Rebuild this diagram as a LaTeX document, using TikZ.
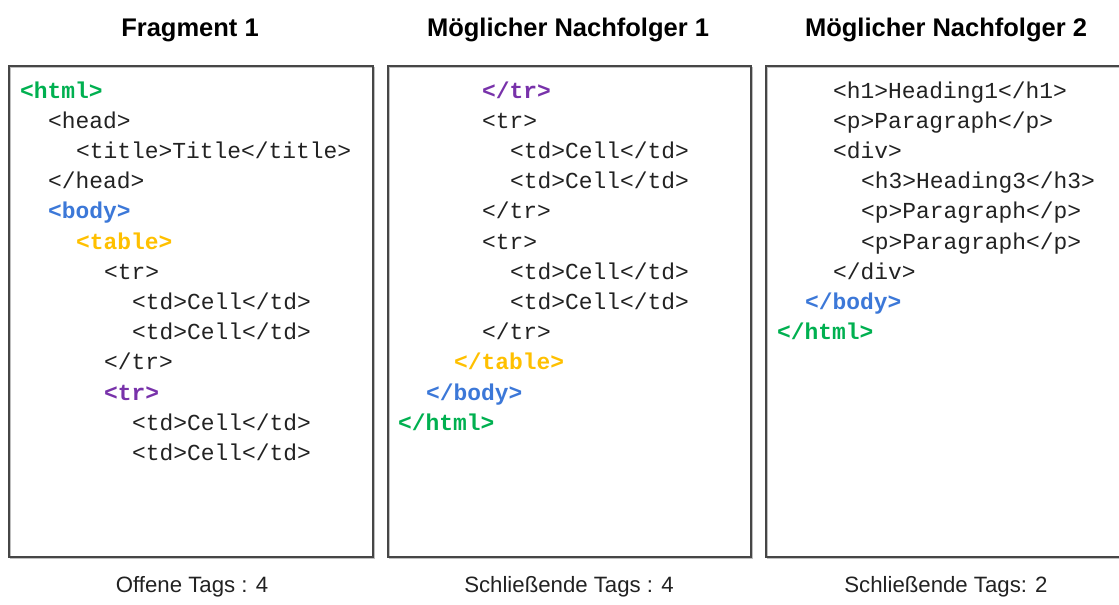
\documentclass[tikz,border=0pt]{standalone}
\usepackage{fontspec}
\setsansfont{Liberation Sans}
\newfontfamily\codefont{Liberation Mono}
\definecolor{tgreen}{RGB}{0,176,80}
\definecolor{tblue}{RGB}{60,120,216}
\definecolor{torange}{RGB}{255,192,0}
\definecolor{tpurple}{RGB}{120,50,170}
\definecolor{ttext}{RGB}{34,34,34}
\definecolor{tframe}{RGB}{70,70,70}
\tikzset{
  codeline/.style={anchor=base west, inner sep=0pt, text=ttext, font=\codefont\fontsize{22.9}{26}\selectfont},
  tag/.style={font=\codefont\bfseries\fontsize{22.9}{26}\selectfont, text=#1},
  header/.style={anchor=base, inner sep=0pt, font=\sffamily\bfseries\fontsize{25.5}{30}\selectfont},
  footer/.style={anchor=base, inner sep=0pt, font=\sffamily\fontsize{22.2}{26}\selectfont, text=ttext},
  frame/.style={draw=tframe, line width=1.6pt},
  shadow/.style={draw=black!25, line width=1.6pt}
}
\begin{document}
\begin{tikzpicture}[x=1pt,y=-1pt]
\useasboundingbox (0,0) rectangle (1119,605);
\clip (0,0) rectangle (1119,605);
% boxes
\draw[shadow] (10.5,67.5) rectangle (374.5,558.5);
\draw[shadow] (389.5,67.5) rectangle (752.5,558.5);
\draw[shadow] (767.5,67.5) rectangle (1130,558.5);
\draw[frame] (9,66) rectangle (373,557);
\draw[frame] (388,66) rectangle (751,557);
\draw[frame] (766,66) rectangle (1128,557);
% headers
\node[header] (h1) at (190,36) {Fragment 1};
\node[header] (h2) at (568,36) {Möglicher Nachfolger 1};
\node[header] (h3) at (946,36) {Möglicher Nachfolger 2};
% footers
\node[footer] (f1) at (192,592) {Offene Tags : 4};
\node[footer] (f2) at (569,592) {Schließende Tags : 4};
\node[footer] (f3) at (946,592) {Schließende Tags: 2};
% box 1
\node[codeline,tag=tgreen] (a1) at (20,98) {<html>};
\node[codeline] (a2) at (48,128.2) {<head>};
\node[codeline] (a3) at (76,158.4) {<title>Title</title>};
\node[codeline] (a4) at (48,188.6) {</head>};
\node[codeline,tag=tblue] (a5) at (48,218.8) {<body>};
\node[codeline,tag=torange] (a6) at (76,249) {<table>};
\node[codeline] (a7) at (104,279.2) {<tr>};
\node[codeline] (a8) at (132,309.4) {<td>Cell</td>};
\node[codeline] (a9) at (132,339.6) {<td>Cell</td>};
\node[codeline] (a10) at (104,369.8) {</tr>};
\node[codeline,tag=tpurple] (a11) at (104,400) {<tr>};
\node[codeline] (a12) at (132,430.2) {<td>Cell</td>};
\node[codeline] (a13) at (132,460.4) {<td>Cell</td>};
% box 2
\node[codeline,tag=tpurple] (b1) at (482,98) {</tr>};
\node[codeline] (b2) at (482,128.2) {<tr>};
\node[codeline] (b3) at (510,158.4) {<td>Cell</td>};
\node[codeline] (b4) at (510,188.6) {<td>Cell</td>};
\node[codeline] (b5) at (482,218.8) {</tr>};
\node[codeline] (b6) at (482,249) {<tr>};
\node[codeline] (b7) at (510,279.2) {<td>Cell</td>};
\node[codeline] (b8) at (510,309.4) {<td>Cell</td>};
\node[codeline] (b9) at (482,339.6) {</tr>};
\node[codeline,tag=torange] (b10) at (454,369.8) {</table>};
\node[codeline,tag=tblue] (b11) at (426,400) {</body>};
\node[codeline,tag=tgreen] (b12) at (398,430.2) {</html>};
% box 3
\node[codeline] (c1) at (833,98) {<h1>Heading1</h1>};
\node[codeline] (c2) at (833,128.2) {<p>Paragraph</p>};
\node[codeline] (c3) at (833,158.4) {<div>};
\node[codeline] (c4) at (861,188.6) {<h3>Heading3</h3>};
\node[codeline] (c5) at (861,218.8) {<p>Paragraph</p>};
\node[codeline] (c6) at (861,249) {<p>Paragraph</p>};
\node[codeline] (c7) at (833,279.2) {</div>};
\node[codeline,tag=tblue] (c8) at (805,309.4) {</body>};
\node[codeline,tag=tgreen] (c9) at (777,339.6) {</html>};
\end{tikzpicture}
\end{document}
